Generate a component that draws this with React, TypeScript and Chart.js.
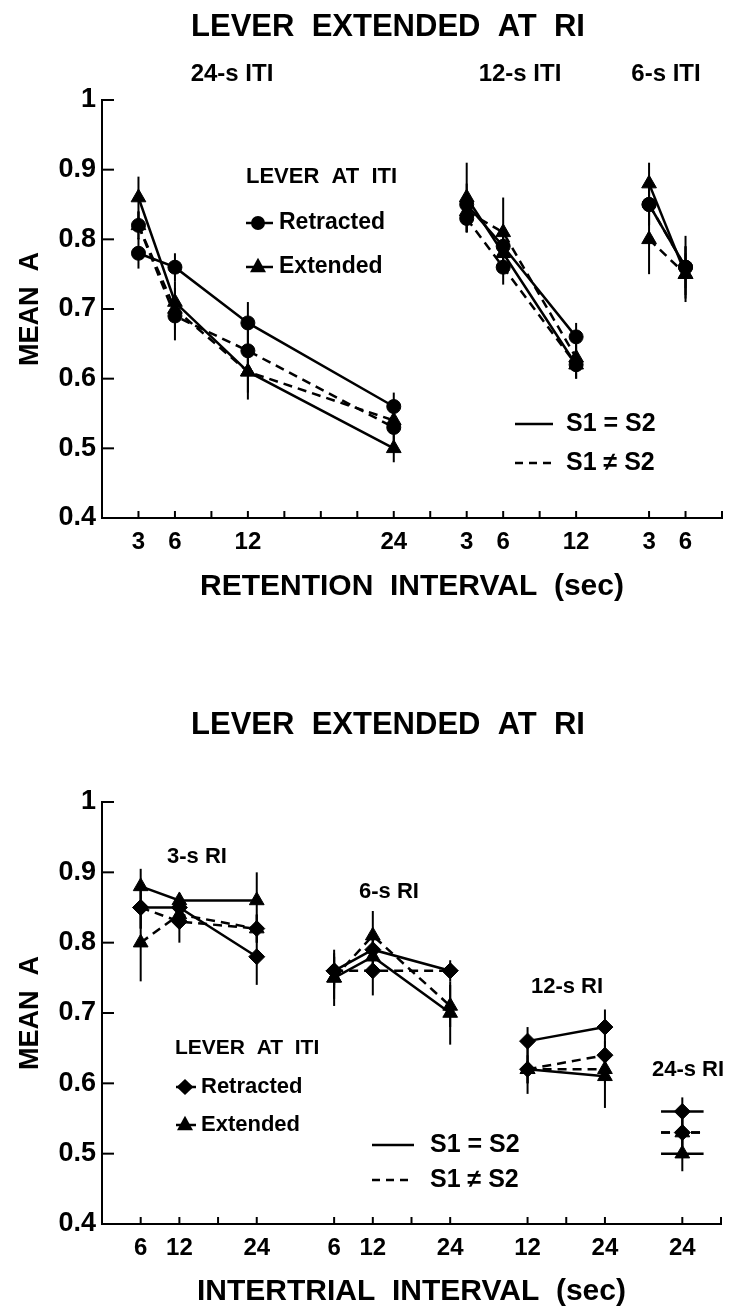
import React, { useEffect, useRef } from 'react';
import { Chart, registerables } from 'chart.js';

Chart.register(...registerables);

const FONT = "'Liberation Sans', Arial, Helvetica, sans-serif";

// ================= Top panel: Mean A by retention interval, grouped by ITI =================
const topGroupNames = ['24-s ITI', '12-s ITI', '6-s ITI'];
const topPointGroup = [0, 0, 0, 0, 1, 1, 1, 2, 2];
const topRetention = [3, 6, 12, 24, 3, 6, 12, 3, 6];
const topRetractedSame = [0.78, 0.76, 0.68, 0.56, 0.85, 0.79, 0.66, 0.85, 0.76];
const topRetractedDiff = [0.82, 0.69, 0.64, 0.53, 0.83, 0.76, 0.62, 0.85, 0.76];
const topExtendedSame = [0.86, 0.71, 0.61, 0.5, 0.86, 0.78, 0.62, 0.88, 0.75];
const topExtendedDiff = [0.82, 0.7, 0.61, 0.54, 0.84, 0.81, 0.63, 0.8, 0.75];
const topRetractedSameErr = [0.022, 0.02, 0.03, 0.02, 0.03, 0.03, 0.02, 0.03, 0.045];
const topRetractedDiffErr = [0.02, 0.035, 0.03, 0.02, 0.02, 0.025, 0.02, 0.03, 0.03];
const topExtendedSameErr = [0.03, 0.03, 0.04, 0.02, 0.05, 0.03, 0.02, 0.03, 0.04];
const topExtendedDiffErr = [0.02, 0.03, 0.03, 0.02, 0.03, 0.05, 0.02, 0.05, 0.03];

// ================= Bottom panel: Mean A by intertrial interval, grouped by RI =================
const bottomGroupNames = ['3-s RI', '6-s RI', '12-s RI', '24-s RI'];
const bottomPointGroup = [0, 0, 0, 1, 1, 1, 2, 2, 3];
const bottomIntertrial = [6, 12, 24, 6, 12, 24, 12, 24, 24];
const bottomRetractedSame = [0.85, 0.85, 0.78, 0.76, 0.79, 0.76, 0.66, 0.68, 0.56];
const bottomRetractedDiff = [0.85, 0.83, 0.82, 0.76, 0.76, 0.76, 0.62, 0.64, 0.53];
const bottomExtendedSame = [0.88, 0.86, 0.86, 0.75, 0.78, 0.7, 0.62, 0.61, 0.5];
const bottomExtendedDiff = [0.8, 0.84, 0.82, 0.75, 0.81, 0.71, 0.62, 0.62, 0.53];
const bottomRetractedSameErr = [0.03, 0.02, 0.04, 0.025, 0.03, 0.015, 0.02, 0.025, 0.02];
const bottomRetractedDiffErr = [0.03, 0.03, 0.02, 0.02, 0.035, 0.01, 0.02, 0.02, 0.02];
const bottomExtendedSameErr = [0.025, 0.01, 0.04, 0.04, 0.03, 0.045, 0.035, 0.045, 0.025];
const bottomExtendedDiffErr = [0.055, 0.02, 0.02, 0.03, 0.035, 0.03, 0.02, 0.02, 0.02];

// y axis
const meanATicks = [0.4, 0.5, 0.6, 0.7, 0.8, 0.9, 1];
const meanALabels = ['0.4', '0.5', '0.6', '0.7', '0.8', '0.9', '1'];

type TextItem = { text: string; x: number; y: number; size: number; align?: CanvasTextAlign };
type LegendItem = { x1: number; x2: number; y: number; marker?: string; mx?: number; dashed?: boolean };

type PanelSpec = {
  width: number;
  height: number;
  plotTop: number;
  padRight: number;
  xAxisHeight: number;
  xMax: number;
  xStep: number;
  groupOffset: number[];
  groupNames: string[];
  pointGroup: number[];
  xValues: number[];
  tickPositions: number[];
  series: { values: number[]; err: number[]; dashed: boolean; marker: string }[];
  xTitle: string;
  xTitlePad: number;
  texts: TextItem[];
  legend: LegendItem[];
};

function drawMarker(ctx: CanvasRenderingContext2D, style: string, x: number, y: number, r: number) {
  ctx.beginPath();
  if (style === 'circle') {
    ctx.arc(x, y, r, 0, Math.PI * 2);
  } else if (style === 'triangle') {
    ctx.moveTo(x, y - r * 1.15);
    ctx.lineTo(x + r, y + r * 0.65);
    ctx.lineTo(x - r, y + r * 0.65);
    ctx.closePath();
  } else {
    ctx.moveTo(x, y - r);
    ctx.lineTo(x + r * 1.05, y);
    ctx.lineTo(x, y + r);
    ctx.lineTo(x - r * 1.05, y);
    ctx.closePath();
  }
  ctx.fill();
}

function markerRadius(style: string) {
  if (style === 'triangle') return 8.5;
  if (style === 'rectRot') return 8;
  return 7;
}

function buildConfig(p: PanelSpec): any {
  const labelMap = new Map<number, string>();
  p.xValues.forEach((v, i) => {
    labelMap.set(p.groupOffset[p.pointGroup[i]] + v / p.xStep, String(v));
  });

  const datasets: any[] = [];
  p.series.forEach((s) => {
    p.groupNames.forEach((_, g) => {
      const idx = p.pointGroup.map((gg, i) => (gg === g ? i : -1)).filter((i) => i >= 0);
      datasets.push({
        data: idx.map((i) => ({ x: p.groupOffset[g] + p.xValues[i] / p.xStep, y: s.values[i] })),
        err: idx.map((i) => s.err[i]),
        borderColor: '#000',
        backgroundColor: '#000',
        borderWidth: 2.5,
        borderDash: s.dashed ? [9, 6] : [],
        pointStyle: s.marker,
        pointRadius: markerRadius(s.marker),
        pointBorderColor: '#000',
        pointBackgroundColor: '#000',
        pointBorderWidth: 1,
        tension: 0,
        fill: false,
      });
    });
  });

  const errorBars = {
    id: 'errorBars',
    beforeDatasetsDraw(chart: any) {
      const { ctx } = chart;
      const y = chart.scales.y;
      const x = chart.scales.x;
      ctx.save();
      ctx.strokeStyle = '#000';
      chart.data.datasets.forEach((ds: any, di: number) => {
        const meta = chart.getDatasetMeta(di);
        meta.data.forEach((pt: any, i: number) => {
          const v = ds.data[i].y;
          const e = ds.err[i];
          ctx.setLineDash([]);
          ctx.lineWidth = 2;
          ctx.beginPath();
          ctx.moveTo(pt.x, y.getPixelForValue(v + e));
          ctx.lineTo(pt.x, y.getPixelForValue(v - e));
          ctx.stroke();
          if (ds.data.length === 1) {
            const half = (x.getPixelForValue(1) - x.getPixelForValue(0)) * 0.55;
            ctx.lineWidth = 2.5;
            ctx.setLineDash(ds.borderDash);
            ctx.beginPath();
            ctx.moveTo(pt.x - half, pt.y);
            ctx.lineTo(pt.x + half, pt.y);
            ctx.stroke();
          }
        });
      });
      ctx.restore();
    },
  };

  const decorations = {
    id: 'decorations',
    afterDraw(chart: any) {
      const { ctx, chartArea } = chart;
      const x = chart.scales.x;
      const y = chart.scales.y;
      ctx.save();
      ctx.strokeStyle = '#000';
      ctx.fillStyle = '#000';
      ctx.lineWidth = 2;
      ctx.setLineDash([]);
      y.ticks.forEach((t: any) => {
        const py = y.getPixelForValue(t.value);
        ctx.beginPath();
        ctx.moveTo(chartArea.left, py);
        ctx.lineTo(chartArea.left + 12, py);
        ctx.stroke();
      });
      x.ticks.forEach((t: any) => {
        const px = x.getPixelForValue(t.value);
        ctx.beginPath();
        ctx.moveTo(px, chartArea.bottom);
        ctx.lineTo(px, chartArea.bottom - 7);
        ctx.stroke();
      });
      p.texts.forEach((t) => {
        ctx.font = `bold ${t.size}px ${FONT}`;
        ctx.textAlign = t.align || 'center';
        ctx.textBaseline = 'middle';
        ctx.fillText(t.text, t.x, t.y);
      });
      p.legend.forEach((l) => {
        ctx.lineWidth = 2.5;
        ctx.setLineDash(l.dashed ? [8, 6] : []);
        ctx.beginPath();
        ctx.moveTo(l.x1, l.y);
        ctx.lineTo(l.x2, l.y);
        ctx.stroke();
        if (l.marker) drawMarker(ctx, l.marker, l.mx as number, l.y, l.marker === 'circle' ? 7 : 8);
      });
      ctx.restore();
    },
  };

  return {
    type: 'line',
    data: { datasets },
    plugins: [errorBars, decorations],
    options: {
      animation: false,
      responsive: false,
      devicePixelRatio: 1,
      layout: { padding: { top: p.plotTop, right: p.padRight, left: 0, bottom: 0 } },
      plugins: { legend: { display: false }, tooltip: { enabled: false }, title: { display: false } },
      elements: { line: { borderCapStyle: 'butt' } },
      scales: {
        x: {
          type: 'linear',
          min: 0,
          max: p.xMax,
          grid: { display: false, drawTicks: false },
          border: { display: true, color: '#000', width: 2 },
          afterBuildTicks: (scale: any) => {
            scale.ticks = p.tickPositions.map((v) => ({ value: v }));
          },
          afterFit: (scale: any) => {
            scale.height = p.xAxisHeight;
          },
          ticks: {
            autoSkip: false,
            maxRotation: 0,
            padding: 10,
            color: '#000',
            font: { family: FONT, size: 24, weight: 'bold' },
            callback: (v: any) => labelMap.get(Number(v)) ?? '',
          },
          title: {
            display: true,
            text: p.xTitle,
            color: '#000',
            font: { family: FONT, size: 30, weight: 'bold' },
            padding: { top: 0, bottom: p.xTitlePad },
          },
        },
        y: {
          type: 'linear',
          min: 0.4,
          max: 1,
          grid: { display: false, drawTicks: false },
          border: { display: true, color: '#000', width: 2 },
          afterBuildTicks: (scale: any) => {
            scale.ticks = meanATicks.map((v) => ({ value: v }));
          },
          afterFit: (scale: any) => {
            scale.width = 102;
          },
          ticks: {
            padding: 6,
            color: '#000',
            font: { family: FONT, size: 27, weight: 'bold' },
            callback: (v: any) => {
              const i = meanATicks.findIndex((t) => Math.abs(t - Number(v)) < 1e-6);
              return i >= 0 ? meanALabels[i] : '';
            },
          },
          title: {
            display: true,
            text: 'MEAN  A',
            color: '#000',
            font: { family: FONT, size: 27, weight: 'bold' },
            padding: { top: 14, bottom: 0 },
          },
        },
      },
    },
  };
}

const topSpec: PanelSpec = {
  width: 734,
  height: 640,
  plotTop: 100,
  padRight: 12,
  xAxisHeight: 122,
  xMax: 17,
  xStep: 3,
  groupOffset: [0, 9, 14],
  groupNames: topGroupNames,
  pointGroup: topPointGroup,
  xValues: topRetention,
  tickPositions: [1, 2, 3, 4, 5, 6, 7, 8, 9, 10, 11, 12, 13, 15, 16, 17],
  series: [
    { values: topRetractedSame, err: topRetractedSameErr, dashed: false, marker: 'circle' },
    { values: topRetractedDiff, err: topRetractedDiffErr, dashed: true, marker: 'circle' },
    { values: topExtendedSame, err: topExtendedSameErr, dashed: false, marker: 'triangle' },
    { values: topExtendedDiff, err: topExtendedDiffErr, dashed: true, marker: 'triangle' },
  ],
  xTitle: 'RETENTION  INTERVAL  (sec)',
  xTitlePad: 35,
  texts: [
    { text: 'LEVER  EXTENDED  AT  RI', x: 388, y: 27, size: 31 },
    { text: topGroupNames[0], x: 232, y: 74, size: 24 },
    { text: topGroupNames[1], x: 520, y: 74, size: 24 },
    { text: topGroupNames[2], x: 666, y: 74, size: 24 },
    { text: 'LEVER  AT  ITI', x: 246, y: 177, size: 22, align: 'left' },
    { text: 'Retracted', x: 279, y: 223, size: 23, align: 'left' },
    { text: 'Extended', x: 279, y: 267, size: 23, align: 'left' },
    { text: 'S1 = S2', x: 566, y: 424, size: 25, align: 'left' },
    { text: 'S1 \u2260 S2', x: 566, y: 463, size: 25, align: 'left' },
  ],
  legend: [
    { x1: 246, x2: 273, y: 223, marker: 'circle', mx: 258 },
    { x1: 246, x2: 273, y: 267, marker: 'triangle', mx: 258 },
    { x1: 515, x2: 553, y: 424 },
    { x1: 515, x2: 553, y: 463, dashed: true },
  ],
};

const bottomSpec: PanelSpec = {
  width: 734,
  height: 671,
  plotTop: 162,
  padRight: 13,
  xAxisHeight: 87,
  xMax: 16,
  xStep: 6,
  groupOffset: [0, 5, 9, 11],
  groupNames: bottomGroupNames,
  pointGroup: bottomPointGroup,
  xValues: bottomIntertrial,
  tickPositions: [1, 2, 3, 4, 6, 7, 8, 9, 11, 12, 13, 15, 16],
  series: [
    { values: bottomRetractedSame, err: bottomRetractedSameErr, dashed: false, marker: 'rectRot' },
    { values: bottomRetractedDiff, err: bottomRetractedDiffErr, dashed: true, marker: 'rectRot' },
    { values: bottomExtendedSame, err: bottomExtendedSameErr, dashed: false, marker: 'triangle' },
    { values: bottomExtendedDiff, err: bottomExtendedDiffErr, dashed: true, marker: 'triangle' },
  ],
  xTitle: 'INTERTRIAL  INTERVAL  (sec)',
  xTitlePad: 1,
  texts: [
    { text: 'LEVER  EXTENDED  AT  RI', x: 388, y: 85, size: 31 },
    { text: bottomGroupNames[0], x: 197, y: 217, size: 22 },
    { text: bottomGroupNames[1], x: 389, y: 252, size: 22 },
    { text: bottomGroupNames[2], x: 567, y: 347, size: 22 },
    { text: bottomGroupNames[3], x: 688, y: 430, size: 22 },
    { text: 'LEVER  AT  ITI', x: 175, y: 408, size: 21, align: 'left' },
    { text: 'Retracted', x: 201, y: 447, size: 22, align: 'left' },
    { text: 'Extended', x: 201, y: 485, size: 22, align: 'left' },
    { text: 'S1 = S2', x: 430, y: 505, size: 25, align: 'left' },
    { text: 'S1 \u2260 S2', x: 430, y: 540, size: 25, align: 'left' },
  ],
  legend: [
    { x1: 176, x2: 196, y: 447, marker: 'rectRot', mx: 185 },
    { x1: 176, x2: 196, y: 485, marker: 'triangle', mx: 185 },
    { x1: 372, x2: 414, y: 505 },
    { x1: 372, x2: 414, y: 540, dashed: true },
  ],
};

function Panel({ spec }: { spec: PanelSpec }) {
  const ref = useRef<HTMLCanvasElement | null>(null);
  useEffect(() => {
    if (!ref.current) return;
    const chart = new Chart(ref.current, buildConfig(spec));
    return () => chart.destroy();
  }, [spec]);
  return (
    <canvas
      ref={ref}
      width={spec.width}
      height={spec.height}
      style={{ display: 'block', width: spec.width, height: spec.height }}
    />
  );
}

export default function App() {
  return (
    <div style={{ position: 'absolute', left: 0, top: 0, width: 734, height: 1311, background: '#fff', overflow: 'hidden' }}>
      <Panel spec={topSpec} />
      <Panel spec={bottomSpec} />
    </div>
  );
}
